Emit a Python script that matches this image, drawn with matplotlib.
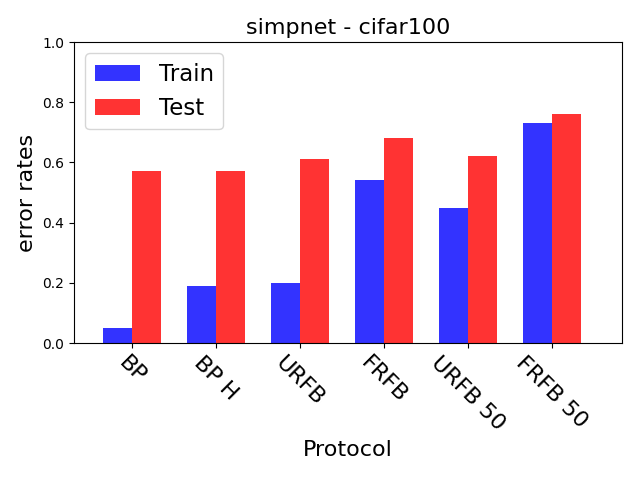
import numpy as np
import matplotlib.pyplot as plt

protocols = ["BP", "BP H", "URFB", "FRFB", "URFB 50", "FRFB 50"]
train_err = [0.05, 0.19, 0.20, 0.54, 0.45, 0.73]
test_err = [0.57, 0.57, 0.61, 0.68, 0.62, 0.76]

index = np.arange(len(protocols))
bar_width = 0.35

fig, ax = plt.subplots(figsize=(6.4, 4.8), dpi=100)
ax.bar(index, train_err, bar_width, color="b", alpha=0.8, label="Train")
ax.bar(index + bar_width, test_err, bar_width, color="r", alpha=0.8, label="Test")

ax.set_xticks(index + bar_width / 2)
ax.set_xticklabels(protocols, rotation=-45, fontsize=16)
ax.set_xlim(-0.515, 6.01)
ax.set_ylim(0, 1.0)
ax.set_xlabel("Protocol", fontsize=16)
ax.set_ylabel("error rates", fontsize=16)
ax.set_title("simpnet - cifar100", fontsize=16)
ax.legend(fontsize=16.5, loc="upper left", borderaxespad=0.5)

fig.subplots_adjust(left=0.1156, right=0.972, top=0.9125, bottom=0.2854)
plt.savefig("out.png", dpi=100)
